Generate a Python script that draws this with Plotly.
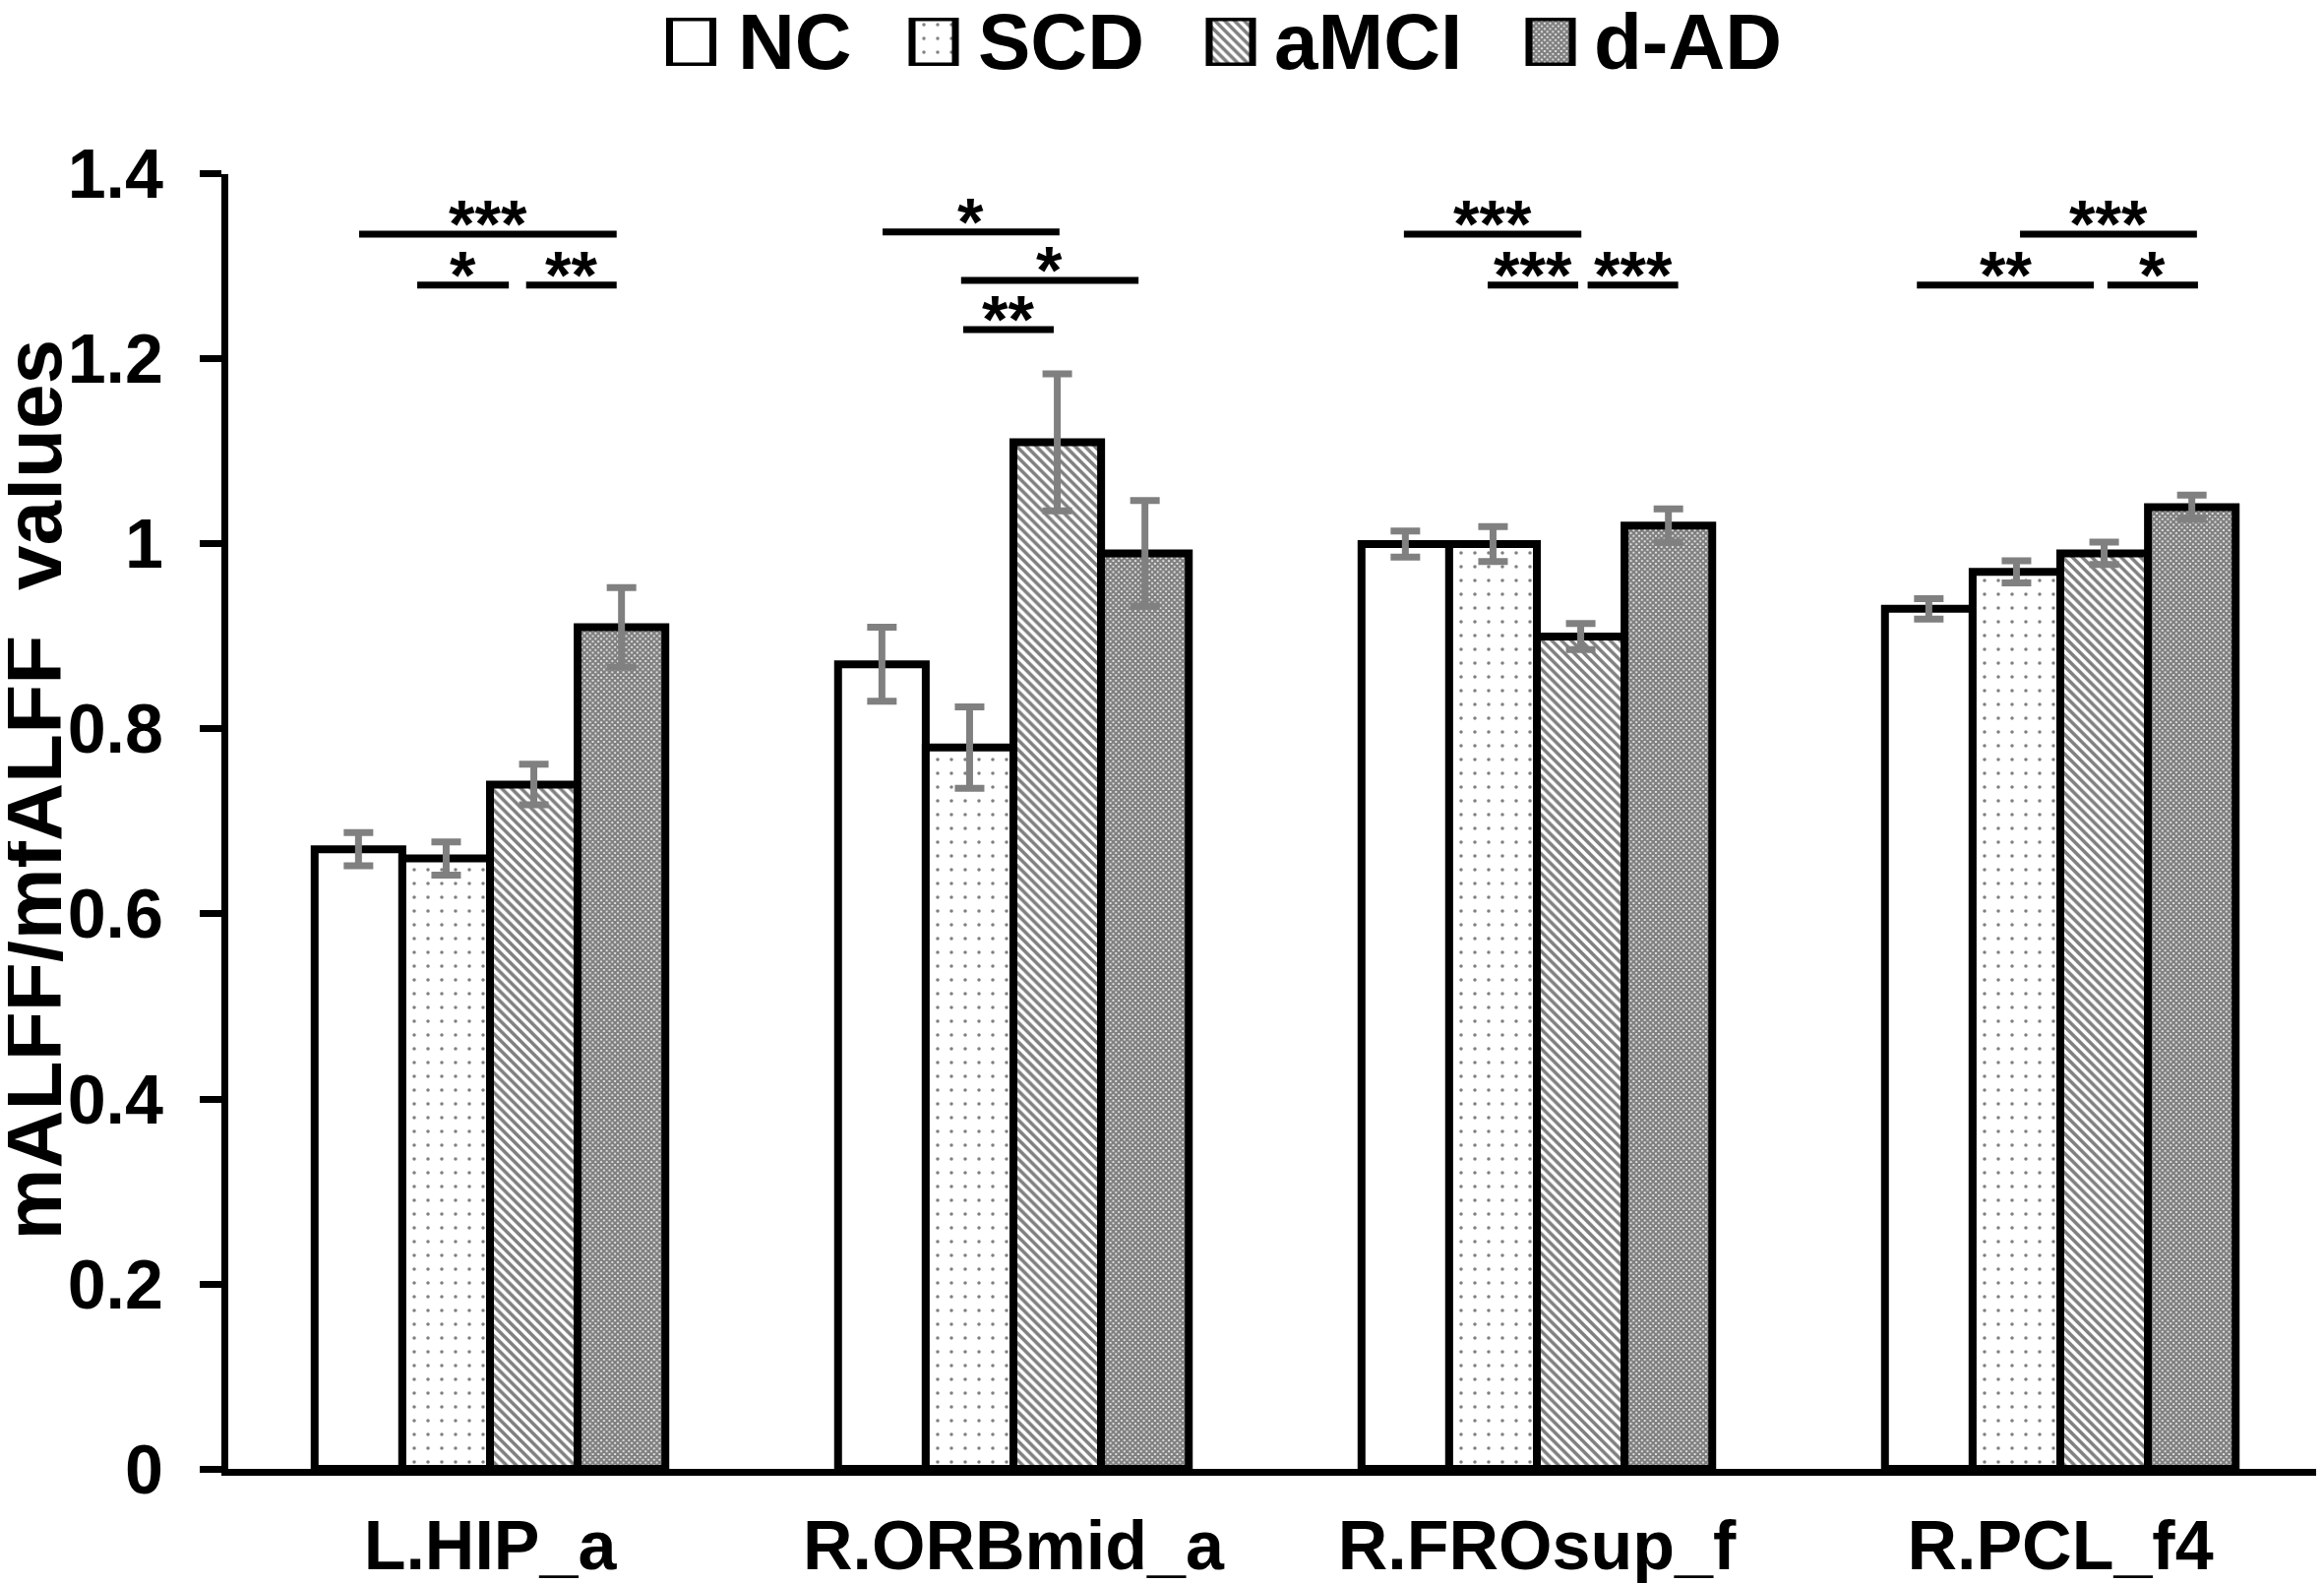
import plotly.graph_objects as go

# ---- data ----
regions = ["L.HIP_a", "R.ORBmid_a", "R.FROsup_f", "R.PCL_f4"]
groups = ["NC", "SCD", "aMCI", "d-AD"]

nc_mean = [0.67, 0.87, 1.00, 0.93]
nc_err = [0.018, 0.040, 0.014, 0.011]
scd_mean = [0.66, 0.78, 1.00, 0.97]
scd_err = [0.018, 0.044, 0.019, 0.012]
amci_mean = [0.74, 1.11, 0.90, 0.99]
amci_err = [0.022, 0.074, 0.014, 0.012]
dad_mean = [0.91, 0.99, 1.02, 1.04]
dad_err = [0.043, 0.057, 0.018, 0.013]

# significance bars (x in category units, y in data units)
sig_x0 = [-0.25, -0.139, 0.069, 0.75, 0.90, 0.904, 1.746, 1.906, 2.097, 2.923, 2.726, 3.09]
sig_x1 = [0.242, 0.036, 0.242, 1.088, 1.239, 1.077, 2.085, 2.079, 2.27, 3.261, 3.064, 3.263]
sig_y = [1.335, 1.28, 1.28, 1.3375, 1.285, 1.232, 1.335, 1.28, 1.28, 1.335, 1.28, 1.28]
sig_label = ["***", "*", "**", "*", "*", "**", "***", "***", "***", "***", "**", "*"]

yticks = [0, 0.2, 0.4, 0.6, 0.8, 1.0, 1.2, 1.4]
ytick_text = ["0", "0.2", "0.4", "0.6", "0.8", "1", "1.2", "1.4"]

means = [nc_mean, scd_mean, amci_mean, dad_mean]
errs = [nc_err, scd_err, amci_err, dad_err]

FONT = "Liberation Sans, Arial, sans-serif"
patterns = [
    dict(shape=""),
    dict(shape=".", fgcolor="black", bgcolor="white", size=14, solidity=0.05),
    dict(shape="\\", fgcolor="black", bgcolor="white", size=7, solidity=0.5),
    dict(shape="x", fgcolor="black", bgcolor="white", size=4, solidity=0.8),
]

fig = go.Figure()
for name, m, e, pat in zip(groups, means, errs, patterns):
    fig.add_trace(go.Bar(
        x=regions, y=m, name=name,
        marker=dict(color="white", pattern=pat, line=dict(color="black", width=8)),
        error_y=dict(type="data", array=e, color="#808080", thickness=7, width=15),
        showlegend=False,
    ))

# hand-made legend (swatches drawn on a pixel-like helper axis)
leg_box_x = [702.5, 949, 1251, 1576]
leg_text_x = [748, 992, 1293, 1618]
for name, pat, bx, tx in zip(groups, patterns, leg_box_x, leg_text_x):
    fig.add_trace(go.Bar(
        x=[bx], y=[1], width=[44], xaxis="x2", yaxis="y2",
        marker=dict(color="white", pattern=pat, line=dict(color="black", width=7)),
        showlegend=False, hoverinfo="skip",
    ))
    fig.add_annotation(x=tx, y=0.5, xref="x2", yref="y2", text=name,
                       showarrow=False, xanchor="left", yanchor="middle",
                       font=dict(family=FONT, size=80, color="black", weight="bold"))

for x0, x1, y, lab in zip(sig_x0, sig_x1, sig_y, sig_label):
    fig.add_shape(type="line", xref="x", yref="y", x0=x0, x1=x1, y0=y, y1=y,
                  line=dict(color="black", width=7))
    fig.add_annotation(x=(x0 + x1) / 2, y=y, xref="x", yref="y", text=lab,
                       showarrow=False, yanchor="middle", yshift=11,
                       font=dict(family=FONT, size=68, color="black", weight="bold"))

fig.add_annotation(x=-0.0935, y=0.465, xref="paper", yref="paper",
                   text="mALFF/mfALFF\u00a0 values", textangle=-90, showarrow=False,
                   xanchor="center", yanchor="middle",
                   font=dict(family=FONT, size=82, color="black", weight="bold"))

fig.update_layout(
    width=2354, height=1601,
    margin=dict(l=224, r=2, t=0, b=116, autoexpand=False),
    paper_bgcolor="white", plot_bgcolor="white",
    barmode="group", bargap=0.33, bargroupgap=0,
    font=dict(family=FONT, color="black"),
    xaxis=dict(type="category", range=[-0.5, 3.5], showline=True, linecolor="black",
               linewidth=7, ticks="", showgrid=False, zeroline=False,
               automargin=False, ticklabelstandoff=11,
               tickfont=dict(family=FONT, size=70, color="black", weight="bold")),
    yaxis=dict(range=[0, 1.4], domain=[0, 0.8862], tickvals=yticks, ticktext=ytick_text,
               showline=True, linecolor="black", linewidth=7, ticks="outside",
               ticklen=22, tickwidth=7, tickcolor="black", showgrid=False,
               zeroline=False, automargin=False, ticklabelstandoff=23,
               tickfont=dict(family=FONT, size=70, color="black", weight="bold")),
    xaxis2=dict(range=[232, 2360], domain=[0, 1], anchor="y2", visible=False),
    yaxis2=dict(range=[0, 1], domain=[0.9603, 0.9932], anchor="x2", visible=False),
)

fig.write_html("out.html")
